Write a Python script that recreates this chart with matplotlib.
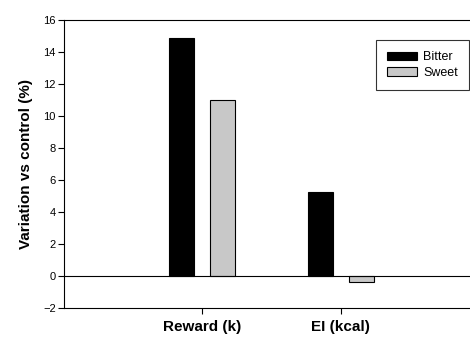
import numpy as np
import matplotlib
matplotlib.use("Agg")
import matplotlib.pyplot as plt

# === Data ===
categories = ["Reward (k)", "EI (kcal)"]
bitter = [14.85, 5.25]
sweet = [11.0, -0.4]
y_ticks = [-2, 0, 2, 4, 6, 8, 10, 12, 14, 16]

plt.rcParams["font.family"] = ["Liberation Sans", "DejaVu Sans"]

fig = plt.figure(figsize=(4.7, 3.4), dpi=100)
ax = fig.add_axes([64 / 470, 1 - 308 / 340, (479 - 64) / 470, 288 / 340])

x = np.arange(1, len(categories) + 1)
w = 0.18
off = 0.149
ax.bar(x - off, bitter, w, color="black", edgecolor="black", linewidth=0.8, label="Bitter")
ax.bar(x + off, sweet, w, color="#c8c8c8", edgecolor="black", linewidth=0.8, label="Sweet")
ax.axhline(0, color="black", linewidth=0.8)

ax.set_xlim(0, 3)
ax.set_ylim(-2, 16)
ax.set_yticks(y_ticks)
ax.set_xticks(x)
ax.set_xticklabels(categories, fontsize=11, fontweight="bold")
ax.tick_params(axis="y", labelsize=8, length=4, width=0.8, direction="out", pad=2)
ax.tick_params(axis="x", length=4, width=0.8, direction="out", pad=5)
ax.set_ylabel("Variation vs control (%)", fontsize=11, fontweight="bold", labelpad=7)
for s in ax.spines.values():
    s.set_linewidth(0.8)

leg = ax.legend(loc="upper right", bbox_to_anchor=((469 - 64) / 415, (308 - 40) / 288),
                borderaxespad=0, fontsize=9, frameon=True, fancybox=False, edgecolor="black",
                handlelength=2.4, handleheight=0.7, borderpad=0.9, labelspacing=0.3,
                handletextpad=0.5)
leg.get_frame().set_linewidth(0.8)

fig.savefig("out.png", dpi=100)
